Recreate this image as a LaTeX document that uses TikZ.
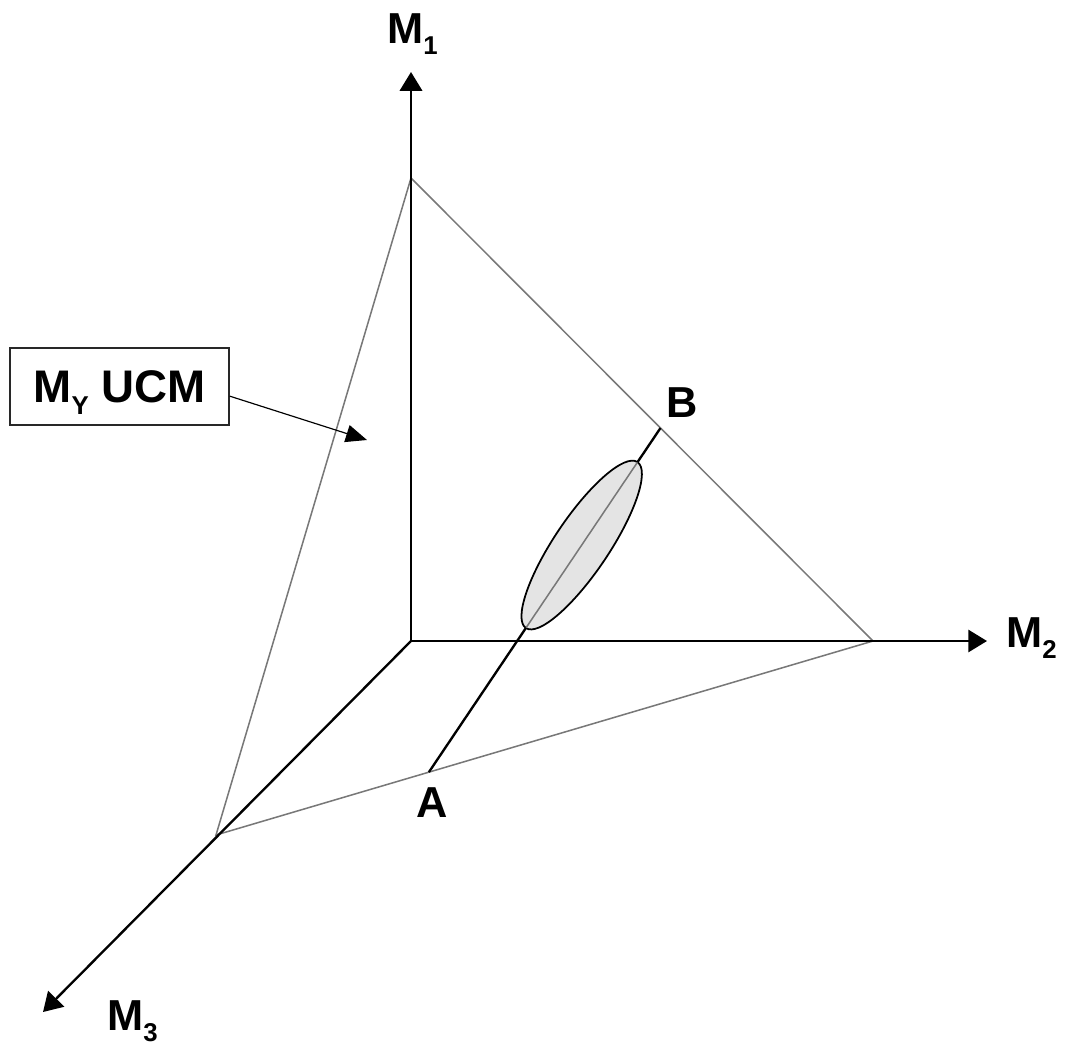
\documentclass[tikz,border=0pt]{standalone}
\usepackage{fontspec}
\setmainfont{Liberation Sans}
\usepackage{tikz}
\usetikzlibrary{calc,arrows.meta,positioning}
\definecolor{ucmGray}{RGB}{120,120,120}
\definecolor{ucmFill}{RGB}{228,228,228}
\definecolor{ucmDark}{RGB}{40,40,40}
\newcommand{\lowidx}[1]{\raisebox{-10pt}{\fontsize{22}{22}\selectfont #1}}

\begin{document}
\begin{tikzpicture}[x=0.03cm,y=-0.03cm,
    axis/.style={black, line width=2pt, -{Triangle[length=16pt,width=19pt]}},
    plane/.style={ucmGray, line width=1.3pt},
    lbl/.style={font=\fontsize{37}{40}\selectfont\bfseries, inner sep=0pt, anchor=base west}]

    \useasboundingbox (0,0) rectangle (1071,1051);

    % =========================
    % UCM plane (intercepts on the three axes)
    % =========================
    \coordinate (O)  at (411,641);
    \coordinate (P1) at (411,178);
    \coordinate (P2) at (873,641);
    \coordinate (P3) at (216,835);
    \draw[plane] (P1) -- (P2) -- (P3) -- cycle;

    % =========================
    % axes
    % =========================
    \coordinate (t1) at (411,72);
    \coordinate (t2) at (987,641);
    \coordinate (t3) at (43,1012);
    \draw[axis] (O) -- (t1);
    \draw[axis] (O) -- (t2);
    \draw[axis] (O) -- (t3);

    \node[lbl] (m1) at (387,43)   {M\lowidx{1}};
    \node[lbl] (m2) at (1006,647) {M\lowidx{2}};
    \node[lbl] (m3) at (107,1030) {M\lowidx{3}};

    % =========================
    % segment A--B with the variance ellipse
    % =========================
    \coordinate (A) at ($(P3)!0.324!(P2)$);
    \coordinate (B) at ($(P1)!0.54!(P2)$);
    \draw[black, line width=2pt] (A) -- (B);

    \coordinate (E1) at ($(A)!0.42!(B)$);
    \coordinate (E2) at ($(A)!0.90!(B)$);
    \coordinate (C)  at ($(A)!0.66!(B)$);
    % major axis along AB, about 56 degrees
    \filldraw[fill=ucmFill, draw=black, line width=1.5pt, rotate around={56.1:(C)}]
        (C) ellipse [x radius=3cm, y radius=0.82cm];
    \draw[ucmGray, line width=1.3pt] (E1) -- (E2);

    \node[lbl] (a) at (416,817) {A};
    \node[lbl] (b) at (666,417) {B};

    % =========================
    % label box
    % =========================
    \node[draw=ucmDark, line width=1.3pt, minimum width=6.57cm, minimum height=2.31cm,
          text height=27pt, text depth=0pt, font=\fontsize{39}{42}\selectfont\bfseries]
        (ucm) at (119.5,386.5) {M\lowidx{Y} UCM};
    \coordinate (ucmTip) at (367,440);
    \draw[black, line width=1pt, -{Triangle[length=18pt,width=15pt]}] (ucm.-5) -- (ucmTip);

\end{tikzpicture}
\end{document}
